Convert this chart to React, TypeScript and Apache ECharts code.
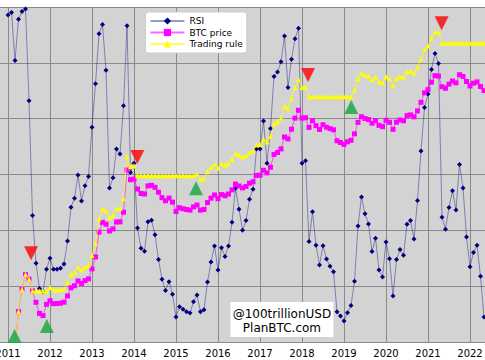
import React, { useEffect, useRef } from "react";
import * as echarts from "echarts";

// monthly data, first point = Jan 2011
const startYear = 2011;
const yearTicks = [2011, 2012, 2013, 2014, 2015, 2016, 2017, 2018, 2019, 2020, 2021, 2022];

const rsi = [
  98.1, 98.7, 87.2, 97.1, 98.9, 99.5, 77.6, 50.2, 38.8, 32.8, 32.0, 37.4,
  40.0, 37.4, 37.4, 37.6, 38.6, 44.1, 52.2, 54.3, 59.9, 53.7, 57.3, 59.5,
  71.3, 81.7, 93.6, 95.8, 84.9, 56.8, 59.2, 66.1, 64.9, 76.4, 95.5, 60.5,
  62.7, 47.2, 42.4, 41.7, 48.7, 49.1, 45.6, 39.7, 35.0, 32.3, 34.4, 31.4,
  26.0, 28.4, 27.8, 27.2, 26.9, 29.6, 31.2, 27.2, 27.7, 34.3, 39.1, 42.9,
  37.2, 42.5, 40.4, 42.9, 48.6, 56.7, 51.7, 46.7, 49.0, 54.1, 56.5, 66.1,
  66.1, 72.8, 62.7, 71.0, 83.4, 84.5, 86.9, 93.1, 80.8, 87.5, 92.4, 94.9,
  62.7, 63.3, 44.0, 51.1, 43.1, 38.4, 43.0, 39.8, 38.1, 36.8, 27.2, 26.2,
  25.0, 27.0, 28.7, 34.5, 47.7, 54.6, 50.6, 48.2, 41.6, 44.8, 37.2, 35.5,
  43.9, 39.9, 31.0, 39.7, 42.1, 40.7, 48.1, 49.0, 44.6, 53.8, 65.6, 76.0,
  79.2, 85.1, 88.9, 86.5, 49.8, 46.9, 52.1, 56.1, 51.5, 62.4, 56.8, 45.1,
  38.0, 41.4, 43.1, 35.7, 26.0,
];

const btcPrice = [
  0.52, 0.86, 0.78, 3.5, 8.74, 16.1, 13.35, 8.19, 5.14, 3.25, 2.97, 4.72,
  5.48, 4.86, 4.9, 4.95, 5.17, 6.69, 9.35, 10.17, 12.4, 11.2, 12.57, 13.51,
  20.41, 33.38, 93.03, 139.23, 128.82, 97.51, 106.21, 141.0, 141.89, 211.17, 1205.66, 805.94,
  829, 550, 457, 448, 627, 640, 589, 481, 386, 338, 378, 320,
  217, 254, 244, 236, 230, 263, 284, 230, 236, 314, 377, 430,
  368, 437, 416, 448, 531, 673, 624, 575, 609, 698, 742, 963,
  970, 1190, 1071, 1348, 2286, 2480, 2875, 4703, 4338, 6468, 10233, 14156,
  10221, 10397, 6973, 9240, 7494, 6404, 7780, 7037, 6625, 6318, 4017, 3742,
  3457, 3854, 4105, 5350, 8574, 10817, 10086, 9631, 8294, 9199, 7569, 7193,
  9350, 8600, 6438, 8658, 9461, 9138, 11324, 11681, 10784, 13781, 19626, 29002,
  33141, 45138, 58918, 57750, 37332, 35041, 41626, 47167, 43791, 61318, 57005, 46306,
  38483, 43194, 45538, 37714, 31792,
];

const tradingRule = [
  0.52, 0.86, 0.78, 3.5, 8.74, 16.1, 13.35, 8.19, 8.19, 8.19, 8.19, 8.19,
  9.51, 8.43, 8.5, 8.59, 8.97, 11.61, 16.22, 17.65, 21.52, 19.43, 21.81, 23.44,
  35.41, 57.92, 161.4, 241.6, 223.5, 169.2, 184.3, 244.7, 246.2, 366.4, 2092, 1398,
  1438, 954, 954, 954, 954, 954, 954, 954, 954, 954, 954, 954,
  954, 954, 954, 954, 954, 954, 1008, 816.5, 837.8, 1115, 1338, 1527,
  1306, 1551, 1477, 1590, 1885, 2389, 2215, 2041, 2162, 2478, 2634, 3419,
  3444, 4225, 3802, 4785, 8115, 8804, 10206, 16696, 15400, 22961, 36327, 50254,
  36285, 36909, 24754, 24754, 24754, 24754, 24754, 24754, 24754, 24754, 24754, 24754,
  24754, 24754, 24754, 32262, 51703, 65229, 60820, 58077, 50015, 55472, 45643, 43375,
  56382, 51860, 38822, 52210, 57052, 55104, 68286, 70439, 65030, 83102, 118350, 174887,
  199846, 272191, 355288, 348245, 225120, 225120, 225120, 225120, 225120, 225120, 225120, 225120,
  225120, 225120, 225120, 225120, 225120,
];

// signal markers: [decimal year, price level]
const sellSignals = [
  [2011.549, 38.8],
  [2014.079, 2060],
  [2018.145, 60560],
  [2021.325, 510900],
];
const buySignals = [
  [2011.158, 1.28],
  [2011.926, 1.93],
  [2015.476, 566],
  [2019.174, 16190],
];

const FONT = "DejaVu Sans";
const GRID_COLOR = "#8a8a8a";
const YEAR_PX = 42.45;
const OX = YEAR_PX - 5; // 2010 sits left of the visible window
const INNER_W = 13 * YEAR_PX;

export default function App() {
  const ref = useRef<HTMLDivElement>(null);

  useEffect(() => {
    const chart = echarts.init(ref.current!, null, { renderer: "svg" });
    const t = (m: number) => startYear + m / 12;
    const pairs = (arr: number[]) => arr.map((v, i) => [t(i), v]);

    chart.setOption({
      animation: false,
      backgroundColor: "#ffffff",
      grid: {
        left: 0,
        right: 0,
        top: 7,
        bottom: 18,
        show: true,
        backgroundColor: "#d3d3d3",
        borderWidth: 0,
      },
      xAxis: {
        type: "value",
        min: 2010,
        max: 2023,
        interval: 1,
        axisLine: { show: true, lineStyle: { color: GRID_COLOR, width: 1 } },
        axisTick: { show: false },
        splitLine: { show: true, lineStyle: { color: GRID_COLOR, width: 1 } },
        axisLabel: {
          show: true,
          margin: 6,
          fontFamily: FONT,
          fontSize: 10,
          color: "#000",
          formatter: (v: number) => (yearTicks.includes(v) ? String(v) : ""),
        },
      },
      yAxis: [
        {
          type: "log",
          logBase: 10,
          min: 1,
          max: 1e6,
          axisLine: { show: false },
          axisTick: { show: false },
          axisLabel: { show: false },
          splitLine: { show: true, lineStyle: { color: GRID_COLOR, width: 1 } },
        },
        {
          type: "value",
          min: 20,
          max: 100,
          axisLine: { show: false },
          axisTick: { show: false },
          axisLabel: { show: false },
          splitLine: { show: false },
        },
      ],
      legend: {
        data: ["RSI", "BTC price", "Trading rule"],
        orient: "vertical",
        left: 145 + OX,
        top: 12,
        itemWidth: 34,
        itemHeight: 9,
        itemGap: 2.5,
        padding: [4.5, 4, 4.5, 4],
        backgroundColor: "#ffffff",
        borderColor: "#cccccc",
        borderWidth: 1,
        borderRadius: 3,
        textStyle: { fontFamily: FONT, fontSize: 9, color: "#000" },
      },
      series: [
        {
          name: "RSI",
          type: "line",
          yAxisIndex: 1,
          data: pairs(rsi),
          symbol: "diamond",
          symbolSize: 5,
          itemStyle: { color: "#000080" },
          lineStyle: { color: "#000080", opacity: 0.4, width: 1 },
          z: 2,
        },
        {
          name: "BTC price",
          type: "line",
          yAxisIndex: 0,
          data: pairs(btcPrice),
          symbol: "rect",
          symbolSize: 5,
          itemStyle: { color: "#ff00ff" },
          lineStyle: { color: "#ff00ff", opacity: 0.6, width: 1 },
          z: 3,
        },
        {
          name: "Trading rule",
          type: "line",
          yAxisIndex: 0,
          data: pairs(tradingRule),
          symbol: "triangle",
          symbolSize: 5,
          itemStyle: { color: "#ffff00" },
          lineStyle: { color: "#ffff00", opacity: 0.7, width: 1 },
          z: 4,
        },
        {
          name: "sell",
          type: "scatter",
          yAxisIndex: 0,
          data: sellSignals,
          symbol: "triangle",
          symbolRotate: 180,
          symbolSize: 14,
          clip: false,
          itemStyle: { color: "#ff0000" },
          z: 6,
        },
        {
          name: "buy",
          type: "scatter",
          yAxisIndex: 0,
          data: buySignals,
          symbol: "triangle",
          symbolSize: 14,
          clip: false,
          itemStyle: { color: "#11a83c" },
          z: 6,
        },
      ],
      graphic: [
        {
          type: "rect",
          z: 100,
          shape: { x: 230 + OX, y: 302, width: 103, height: 35 },
          style: { fill: "#ffffff" },
        },
        {
          type: "text",
          z: 101,
          x: 281.5 + OX,
          y: 313.5,
          style: {
            text: "@100trillionUSD",
            font: `12px "${FONT}"`,
            fill: "#000",
            align: "center",
            verticalAlign: "middle",
            textAlign: "center",
            textVerticalAlign: "middle",
          },
        },
        {
          type: "text",
          z: 101,
          x: 281.5 + OX,
          y: 327.5,
          style: {
            text: "PlanBTC.com",
            font: `12px "${FONT}"`,
            fill: "#000",
            align: "center",
            verticalAlign: "middle",
            textAlign: "center",
            textVerticalAlign: "middle",
          },
        },
      ],
    });

    return () => chart.dispose();
  }, []);

  return (
    <div
      style={{
        position: "absolute",
        left: 0,
        top: 0,
        width: 485,
        height: 360,
        overflow: "hidden",
        background: "#fff",
      }}
    >
      <div
        ref={ref}
        style={{ position: "absolute", left: -OX, top: 0, width: INNER_W, height: 360 }}
      />
    </div>
  );
}
